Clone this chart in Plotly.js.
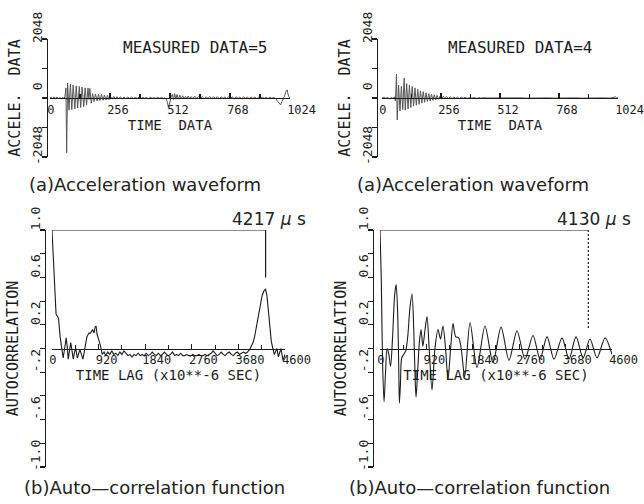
<!DOCTYPE html>
<html><head><meta charset="utf-8">
<script src="https://cdn.plot.ly/plotly-3.0.1.min.js"></script>
<style>html,body{margin:0;padding:0;background:#fff}#chart{width:644px;height:504px}</style>
</head><body><div id="chart"></div>
<script>
// ---------------- DATA ----------------
const measuredA = 5, measuredB = 4;
const periodA = 4217, periodB = 4130;           // marked periods (µs)
const markerBottomA = 0.6, markerBottomB = 0.17; // where the marker drops to
const acfMax = 1.0;

const waveTickStep = 256, waveMinorStep = 128;
const lagTickStep = 920, lagMinorStep = 460;
const accTickVals = [-2048, 0, 2048];
const accTickText = ['-2048', '0', '2048'];
const acfTickVals = [-1.0, -0.6, -0.2, 0.2, 0.6, 1.0];
const acfTickText = ['-1.0', '-.6', '-.2', '0.2', '0.6', '1.0'];

// Waveform, measured data 5
const waveA_t = [0,6,12,18,24,30,36,42,48,54,
 60,64,68,71,75,81,87,93,99,106,
 112,118,125,131,137,144,150,156,162,166,
 170,176,182,188,194,201,207,213,220,226,
 232,239,245,252,258,265,272,279,286,293,
 300,308,316,324,332,340,348,356,364,372,
 380,388,396,404,412,420,428,436,444,452,
 460,468,476,484,490,496,501,505,509,513,
 517,522,527,532,537,542,548,554,560,566,
 572,578,584,590,596,602,610,618,626,634,
 642,650,658,666,674,682,690,698,706,714,
 722,730,738,746,754,762,770,778,786,794,
 802,810,818,826,834,842,850,858,866,874,
 882,890,898,906,914,922,930,938,946,954,
 962,970,978,984,990,996,1002,1008,1012,1016,
 1020,1023];
const waveA_v = [0,30,-20,40,-10,35,-30,20,-40,30,
 -20,60,350,-1900,520,-420,480,-400,450,-380,
 420,-350,400,-330,380,-300,350,-250,350,-50,
 330,-180,150,-120,140,-100,130,-90,120,-80,
 100,-70,90,-60,60,-40,50,-30,45,-25,
 40,-20,35,-20,30,-15,25,-15,20,-10,
 25,-15,20,-10,15,-20,25,-10,10,-15,
 20,-10,15,-20,10,-40,-150,-320,-220,-60,
 40,130,-50,150,-40,120,-40,100,-30,80,
 -30,60,-20,70,-30,50,-20,60,-20,50,
 -10,45,-20,40,-15,50,-20,40,-10,45,
 -20,40,-15,35,-20,40,-10,35,-20,40,
 -15,30,-20,35,-10,30,-20,35,-15,30,
 -20,25,-10,30,-15,25,-20,30,-10,20,
 -10,-100,-200,-240,-120,-20,100,250,280,120,
 0,-20];

// Waveform, measured data 4
const waveB_t = [0,8,16,24,32,40,48,54,58,63,
 66,72,78,84,90,96,101,107,113,119,
 125,131,137,143,149,155,161,167,173,179,
 185,191,197,203,209,215,221,227,233,239,
 245,252,259,266,273,280,288,296,304,312,
 320,328,336,344,352,360,370,380,390,400,
 410,420,430,440,455,480,510,540,570,600,
 630,660,690,720,750,780,810,840,870,900,
 930,960,990,1004,1012,1018,1023];
const waveB_v = [0,20,-10,15,-20,10,-15,40,-100,830,
 -760,450,-450,400,-400,690,-420,500,-380,450,
 -330,400,-280,350,-250,300,-220,250,-180,220,
 -150,180,-120,150,-100,130,-80,110,-60,90,
 -50,70,-40,60,-30,50,-25,40,-20,35,
 -15,30,-15,25,-10,20,-10,15,-5,15,
 -10,10,-5,10,0,5,-5,5,0,5,
 -5,5,0,5,-5,5,0,5,-5,5,
 0,5,-5,10,40,10,0];

// Auto-correlation, measured data 5
const acfA_lag = [0,30,60,80,110,130,160,200,220,250,
 280,300,320,345,370,395,420,445,470,500,
 525,550,580,610,640,690,730,760,800,830,
 850,870,890,910,940,970,990,1030,1060,1100,
 1140,1180,1220,1260,1300,1340,1380,1420,1460,1500,
 1540,1580,1620,1660,1700,1740,1780,1820,1860,1900,
 1940,1980,2020,2060,2100,2140,2180,2220,2260,2300,
 2340,2380,2420,2460,2500,2540,2580,2620,2660,2700,
 2740,2780,2820,2860,2900,2940,2980,3020,3060,3100,
 3140,3180,3220,3260,3300,3340,3380,3420,3460,3500,
 3540,3580,3620,3660,3700,3740,3780,3820,3860,3900,
 3940,3970,4000,4040,4070,4110,4150,4190,4217,4245,
 4270,4300,4330,4360,4390,4420,4440,4470,4500,4520,
 4560,4600];
const acfA_val = [1.0,0.7,0.35,0.29,0.27,0.25,0.1,-0.05,-0.08,0.0,
 0.09,0.02,-0.09,-0.02,0.05,-0.02,-0.09,-0.03,0.0,-0.08,
 -0.04,-0.01,-0.05,-0.09,-0.02,0.1,0.13,0.13,0.16,0.13,
 0.18,0.19,0.12,0.08,0.05,0.0,-0.05,-0.03,-0.06,-0.03,
 -0.05,-0.02,-0.05,-0.04,-0.06,-0.03,-0.05,-0.02,-0.04,-0.06,
 -0.05,-0.07,-0.05,-0.06,-0.04,-0.06,-0.05,-0.06,-0.04,-0.06,
 -0.05,-0.03,-0.05,-0.06,-0.04,-0.06,-0.05,-0.03,-0.05,-0.06,
 -0.05,-0.03,-0.06,-0.05,-0.06,-0.04,-0.06,-0.06,-0.05,-0.06,
 -0.06,-0.05,-0.06,-0.06,-0.05,-0.06,-0.06,-0.05,-0.06,-0.05,
 -0.04,-0.02,-0.04,-0.06,-0.05,-0.03,-0.05,-0.06,-0.04,-0.03,
 -0.05,-0.06,-0.04,-0.03,-0.05,-0.04,-0.03,-0.04,-0.03,-0.01,
 0.02,0.05,0.1,0.2,0.27,0.38,0.45,0.49,0.5,0.44,
 0.33,0.17,0.06,0.0,-0.05,-0.02,0.0,-0.07,-0.02,0.0,
 -0.1,-0.05];

// Auto-correlation, measured data 4
const acfB_lag = [0,25,50,80,110,140,175,210,250,290,
 320,350,375,385,405,430,470,510,550,595,
 635,670,700,715,740,780,813,850,890,932,
 975,1031,1090,1150,1200,1249,1300,1348,1400,1448,
 1500,1560,1610,1680,1785,1923,2082,2240,2400,2558,
 2717,2875,3034,3173,3312,3450,3609,3748,3887,4026,
 4164,4303,4462,4600];
const acfB_val = [1.0,0.6,-0.1,-0.45,-0.2,0.0,-0.05,-0.15,0.1,0.45,
 0.54,0.3,-0.25,-0.46,-0.3,-0.08,-0.05,-0.02,0.1,0.35,
 0.46,0.15,-0.3,-0.41,-0.25,0.05,0.16,0.02,0.15,0.27,
 0.0,-0.35,0.0,0.16,0.08,0.19,0.0,-0.26,0.0,0.21,
 0.1,0.09,0.0,-0.24,0.22,-0.16,0.19,-0.12,0.18,-0.1,
 0.15,-0.09,0.11,-0.09,0.10,-0.09,0.09,-0.09,0.10,-0.08,
 0.08,-0.08,0.09,-0.05];

// ---------------- LAYOUT HELPERS ----------------
const W = 644, H = 504;
const fx = p => p / W, fy = p => 1 - p / H;
const ink = '#1c1c1c';
const mono = 'DejaVu Sans Mono';
const sans = 'DejaVu Sans';

function xAxisCfg(d0, d1, range, step, minorStep, posPy, title) {
  return {domain: [fx(d0), fx(d1)], range: range, anchor: 'free', position: fy(posPy),
    showline: true, linecolor: ink, linewidth: 1.2, mirror: false,
    ticks: 'inside', ticklen: 5, tickwidth: 1.1, tickcolor: ink,
    tickmode: 'linear', tick0: 0, dtick: step, ticklabelposition: 'outside right',
    ticklabelshift: -4, ticklabeloverflow: 'allow',
    tickfont: {family: mono, size: 12, color: ink},
    minor: {tickmode: 'linear', tick0: 0, dtick: minorStep, ticks: 'inside', ticklen: 4, tickcolor: ink, showgrid: false},
    showgrid: false, zeroline: false, fixedrange: true,
    title: {text: title, font: {family: mono, size: 14, color: ink}, standoff: 2}};
}
function yAxisCfg(d0, d1, range, vals, text, minorStep, posPx, title) {
  return {domain: [fy(d1), fy(d0)], range: range, anchor: 'free', position: fx(posPx),
    showline: true, linecolor: ink, linewidth: 1.2,
    ticks: 'outside', ticklen: 5, tickwidth: 1.1, tickcolor: ink,
    tickmode: 'array', tickvals: vals, ticktext: text, tickangle: -90,
    ticklabelposition: 'outside top', ticklabeloverflow: 'allow',
    tickfont: {family: mono, size: 13, color: ink},
    minor: {tickmode: 'linear', tick0: 0, dtick: minorStep, ticks: 'outside', ticklen: 5, tickcolor: ink, showgrid: false},
    showgrid: false, zeroline: false, fixedrange: true,
    title: {text: title, font: {family: mono, size: 15, color: ink}, standoff: 4}};
}

const traces = [
  {x: waveA_t, y: waveA_v, xaxis: 'x', yaxis: 'y', mode: 'lines', line: {color: '#555', width: 1}},
  {x: waveB_t, y: waveB_v, xaxis: 'x2', yaxis: 'y2', mode: 'lines', line: {color: '#555', width: 1}},
  {x: acfA_lag, y: acfA_val, xaxis: 'x3', yaxis: 'y3', mode: 'lines', line: {color: ink, width: 1.1}},
  {x: [0, periodA, periodA], y: [acfMax, acfMax, markerBottomA], xaxis: 'x3', yaxis: 'y3', mode: 'lines', line: {color: ink, width: 1.2}},
  {x: acfB_lag, y: acfB_val, xaxis: 'x4', yaxis: 'y4', mode: 'lines', line: {color: ink, width: 1.1, shape: 'spline', smoothing: 0.8}},
  {x: [0, periodB], y: [acfMax, acfMax], xaxis: 'x4', yaxis: 'y4', mode: 'lines', line: {color: ink, width: 1.2}},
  {x: [periodB, periodB], y: [acfMax, markerBottomB], xaxis: 'x4', yaxis: 'y4', mode: 'lines', line: {color: ink, width: 1.2, dash: '2px,2px'}}
];

const layout = {
  width: W, height: H, margin: {l: 0, r: 0, t: 0, b: 0},
  paper_bgcolor: '#fff', plot_bgcolor: 'rgba(0,0,0,0)', showlegend: false,
  xaxis:  xAxisCfg(50, 290, [0, 1024], waveTickStep, waveMinorStep, 98, 'TIME\u00a0\u00a0DATA'),
  yaxis:  yAxisCfg(39, 157, [-2048, 2048], accTickVals, accTickText, 1024, 47, 'ACCELE.\u00a0\u00a0DATA'),
  xaxis2: xAxisCfg(382, 618, [0, 1024], waveTickStep, waveMinorStep, 98, 'TIME\u00a0\u00a0DATA'),
  yaxis2: yAxisCfg(39, 157, [-2048, 2048], accTickVals, accTickText, 1024, 377, 'ACCELE.\u00a0\u00a0DATA'),
  xaxis3: xAxisCfg(52, 285, [0, 4600], lagTickStep, lagMinorStep, 348.5, 'TIME LAG (x10**-6 SEC)'),
  yaxis3: yAxisCfg(230, 467, [-1, 1], acfTickVals, acfTickText, 0.2, 45, 'AUTOCORRELATION'),
  xaxis4: xAxisCfg(380, 612, [0, 4600], lagTickStep, lagMinorStep, 348.5, 'TIME LAG (x10**-6 SEC)'),
  yaxis4: yAxisCfg(230, 467, [-1, 1], acfTickVals, acfTickText, 0.2, 373, 'AUTOCORRELATION'),
  annotations: [
    {text: 'MEASURED DATA=' + measuredA, x: fx(195), y: fy(47), xref: 'paper', yref: 'paper', showarrow: false, xanchor: 'center', yanchor: 'middle', font: {family: mono, size: 16, color: ink}},
    {text: 'MEASURED DATA=' + measuredB, x: fx(520), y: fy(47), xref: 'paper', yref: 'paper', showarrow: false, xanchor: 'center', yanchor: 'middle', font: {family: mono, size: 16, color: ink}},
    {text: '(a)Acceleration waveform', x: fx(27), y: fy(184), xref: 'paper', yref: 'paper', showarrow: false, xanchor: 'left', yanchor: 'middle', font: {family: sans, size: 18, color: '#222'}},
    {text: '(a)Acceleration waveform', x: fx(355), y: fy(184), xref: 'paper', yref: 'paper', showarrow: false, xanchor: 'left', yanchor: 'middle', font: {family: sans, size: 18, color: '#222'}},
    {text: periodA + ' <i>\u03bc</i> s', x: fx(308), y: fy(219), xref: 'paper', yref: 'paper', showarrow: false, xanchor: 'right', yanchor: 'middle', font: {family: sans, size: 17, color: '#222'}},
    {text: periodB + ' <i>\u03bc</i> s', x: fx(633), y: fy(219), xref: 'paper', yref: 'paper', showarrow: false, xanchor: 'right', yanchor: 'middle', font: {family: sans, size: 17, color: '#222'}},
    {text: '(b)Auto\u2014correlation function', x: fx(22), y: fy(487), xref: 'paper', yref: 'paper', showarrow: false, xanchor: 'left', yanchor: 'middle', font: {family: sans, size: 18, color: '#222'}},
    {text: '(b)Auto\u2014correlation function', x: fx(347), y: fy(487), xref: 'paper', yref: 'paper', showarrow: false, xanchor: 'left', yanchor: 'middle', font: {family: sans, size: 18, color: '#222'}}
  ]
};

Plotly.newPlot('chart', traces, layout, {staticPlot: true, displayModeBar: false});
</script>
</body></html>
